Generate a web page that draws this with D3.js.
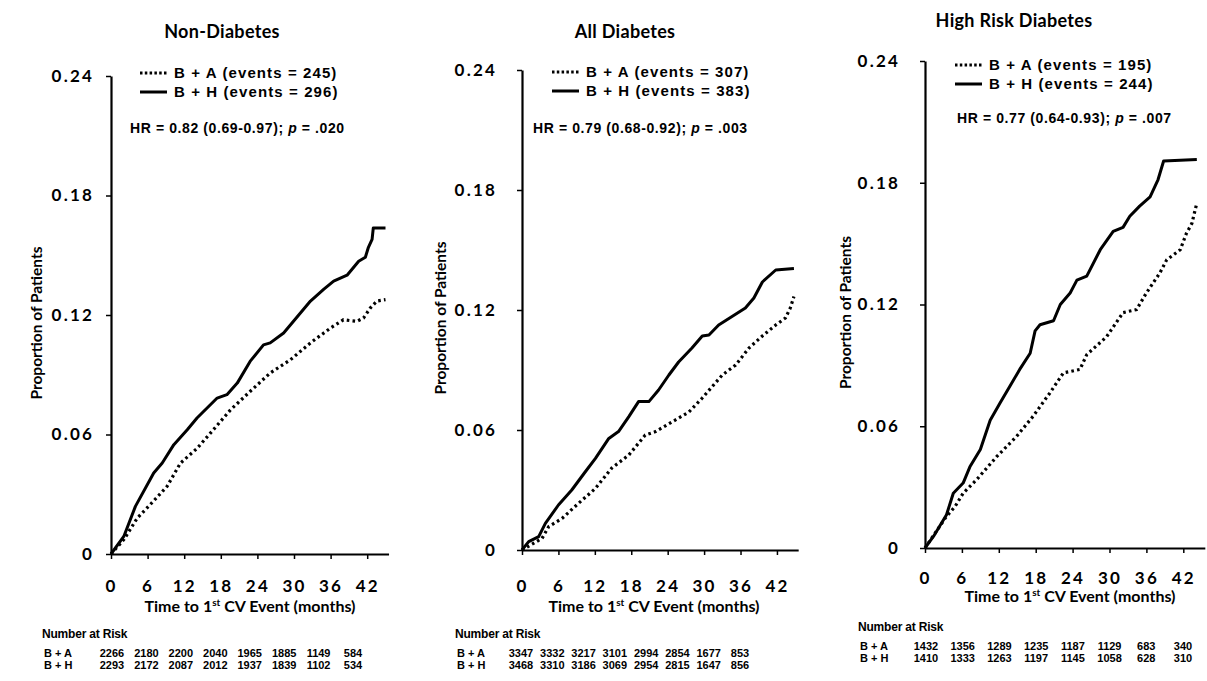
<!DOCTYPE html>
<html>
<head>
<meta charset="utf-8">
<script src="https://cdn.jsdelivr.net/npm/d3@7"></script>
<style>
  body { margin: 0; background: #fff; }
  .calib { font-family: Lato, "Open Sans", sans-serif; font-weight: 700; }
  .arial { font-family: "Liberation Sans", Arial, sans-serif; font-weight: 700; }
</style>
</head>
<body>
<svg width="1207" height="681"></svg>
<script>
// ---- data ----
const titles = ["Non-Diabetes", "All Diabetes", "High Risk Diabetes"];
const eventsBA = [245, 307, 195];
const eventsBH = [296, 383, 244];
const hrText = ["0.82 (0.69-0.97)", "0.79 (0.68-0.92)", "0.77 (0.64-0.93)"];
const pText = [".020", ".003", ".007"];

const monthTicks = [0, 6, 12, 18, 24, 30, 36, 42];
const propTicks = [0, 0.06, 0.12, 0.18, 0.24];
const propTickLabels = ["0", "0.06", "0.12", "0.18", "0.24"];

const riskBA = [
  [2266, 2180, 2200, 2040, 1965, 1885, 1149, 584],
  [3347, 3332, 3217, 3101, 2994, 2854, 1677, 853],
  [1432, 1356, 1289, 1235, 1187, 1129, 683, 340]
];
const riskBH = [
  [2293, 2172, 2087, 2012, 1937, 1839, 1102, 534],
  [3468, 3310, 3186, 3069, 2954, 2815, 1647, 856],
  [1410, 1333, 1263, 1197, 1145, 1058, 628, 310]
];

// [month, proportion]
const nonDiabBA = [[0,0],[2.1,0.0072],[4.3,0.018],[6.4,0.0247],[9.2,0.034],[11.4,0.0457],[14.1,0.053],[16.3,0.0607],[19.6,0.0724],[22.8,0.0816],[26.1,0.0909],[29.4,0.0975],[32.7,0.106],[36.0,0.1135],[38.1,0.1176],[40.3,0.1168],[41.4,0.1185],[42.5,0.1235],[43.6,0.127],[45.0,0.1277]];
const nonDiabBH = [[0,0],[2.1,0.0088],[4.0,0.0239],[7.0,0.0407],[8.4,0.0457],[10.3,0.0549],[12.5,0.0624],[14.1,0.0683],[17.4,0.0783],[19.0,0.080],[20.7,0.0858],[22.8,0.0967],[25.0,0.105],[26.1,0.106],[28.3,0.111],[30.5,0.119],[32.7,0.127],[34.9,0.133],[36.5,0.137],[38.7,0.140],[40.6,0.147],[41.7,0.149],[42.2,0.154],[42.8,0.158],[43.0,0.1637],[45.0,0.1637]];

const allDiabBA = [[0,0],[3.3,0.0058],[4.4,0.0117],[6.6,0.0158],[9.3,0.0233],[12.1,0.0308],[14.8,0.041],[17.6,0.0475],[20.3,0.0575],[22.0,0.0592],[24.7,0.064],[27.5,0.069],[29.7,0.076],[33.0,0.0875],[35.2,0.0925],[37.4,0.101],[39.6,0.107],[41.8,0.1125],[43.4,0.116],[44.2,0.121],[44.8,0.1267]];
const allDiabBH = [[0,0],[1.1,0.0042],[2.75,0.0067],[3.85,0.0133],[6.0,0.0225],[8.2,0.030],[10.4,0.039],[12.1,0.0458],[14.3,0.0558],[15.9,0.0592],[17.6,0.0667],[19.2,0.0742],[20.9,0.0742],[22.5,0.080],[24.2,0.0875],[25.8,0.094],[28.0,0.101],[29.7,0.107],[30.8,0.1075],[32.4,0.1125],[34.6,0.1167],[36.8,0.121],[38.2,0.126],[39.6,0.134],[41.8,0.140],[44.8,0.1408]];

const highRiskBA = [[0,0],[3.5,0.0156],[4.9,0.0205],[6.2,0.027],[8.4,0.0337],[11.65,0.045],[14.9,0.055],[17.6,0.065],[20.3,0.0764],[22.5,0.0863],[25.2,0.088],[26.3,0.0953],[29.5,0.104],[32.2,0.116],[34.4,0.1175],[36.0,0.1257],[38.2,0.1356],[39.3,0.142],[41.5,0.147],[42.5,0.155],[43.4,0.160],[44.2,0.170]];
const highRiskBH = [[0,0],[1.4,0.0058],[3.5,0.0164],[4.6,0.027],[6.2,0.032],[7.3,0.040],[9.0,0.0485],[10.6,0.063],[12.2,0.0715],[13.8,0.0797],[15.4,0.088],[17.1,0.096],[17.9,0.107],[18.7,0.110],[20.9,0.112],[22.0,0.120],[23.6,0.1257],[24.7,0.132],[26.3,0.134],[28.5,0.147],[30.6,0.156],[32.2,0.158],[33.3,0.1635],[34.9,0.1685],[36.6,0.173],[37.9,0.1816],[38.8,0.1907],[44.2,0.1915]];

const seriesBA = [nonDiabBA, allDiabBA, highRiskBA];
const seriesBH = [nonDiabBH, allDiabBH, highRiskBH];

// ---- layout of each panel ----
const layout = [
  {x0: 111, ppm: 6.1,  y0: 554, yTop: 76, titleX: 222, titleY: 38, legX: 140, legY: 73, hrX: 130, hrY: 128,
   xLabPad: 21, yLabPad: 12, axTitleX: 250, axTitleY: 612, ylabX: 37, riskX: 42, riskY: 634, riskFrom: 112, riskTo: 353},
  {x0: 522, ppm: 6.07, y0: 550, yTop: 70, titleX: 625, titleY: 38, legX: 552, legY: 72, hrX: 533, hrY: 128,
   xLabPad: 25, yLabPad: 20, axTitleX: 654, axTitleY: 612, ylabX: 441, riskX: 455, riskY: 634, riskFrom: 521, riskTo: 740},
  {x0: 925, ppm: 6.15, y0: 548, yTop: 61, titleX: 1014, titleY: 27, legX: 955, legY: 65, hrX: 957, hrY: 118,
   xLabPad: 19, yLabPad: 20, axTitleX: 1070, axTitleY: 602, ylabX: 846, riskX: 858, riskY: 627, riskFrom: 926, riskTo: 1183}
];

const svg = d3.select("svg");

layout.forEach((L, i) => {
  const x = d3.scaleLinear().domain([0, 45.5]).range([L.x0, L.x0 + 45.5 * L.ppm]);
  const y = d3.scaleLinear().domain([0, 0.24]).range([L.y0, L.yTop]);
  const g = svg.append("g");

  // title
  g.append("text").attr("class", "calib")
    .attr("x", L.titleX).attr("y", L.titleY)
    .attr("text-anchor", "middle")
    .style("font-size", "18px").style("letter-spacing", "0.3px")
    .text(titles[i]);

  // axes
  const xAxis = g.append("g")
    .attr("transform", `translate(0,${L.y0})`)
    .call(d3.axisBottom(x).tickValues(monthTicks).tickSize(5).tickPadding(L.xLabPad).tickSizeOuter(0));
  const yAxis = g.append("g")
    .attr("transform", `translate(${L.x0},0)`)
    .call(d3.axisLeft(y).tickValues(propTicks).tickSize(5).tickPadding(L.yLabPad).tickSizeOuter(0)
      .tickFormat((d, k) => propTickLabels[k]));

  [xAxis, yAxis].forEach(a => {
    a.select(".domain").attr("stroke", "#000").attr("stroke-width", 2.2);
    a.selectAll(".tick line").attr("stroke", "#000").attr("stroke-width", 1.5);
    a.selectAll(".tick text").attr("class", "calib")
      .attr("fill", "#000").style("font-size", "17px").style("letter-spacing", "2.2px");
  });

  // axis titles
  const xt = g.append("text").attr("class", "calib")
    .attr("x", L.axTitleX).attr("y", L.axTitleY)
    .attr("text-anchor", "middle").style("font-size", "16px");
  xt.append("tspan").text("Time to 1");
  xt.append("tspan").attr("dy", -6).style("font-size", "10px").text("st");
  xt.append("tspan").attr("dy", 6).text(" CV Event (months)");

  g.append("text").attr("class", "calib")
    .attr("transform", `translate(${L.ylabX},${(L.y0 + L.yTop) / 2 + 8}) rotate(-90)`)
    .attr("text-anchor", "middle").attr("dy", "0.35em")
    .style("font-size", "15.5px")
    .text("Proportion of Patients");

  // curves
  const line = d3.line().x(d => x(d[0])).y(d => y(d[1]));
  g.append("path").datum(seriesBH[i])
    .attr("fill", "none").attr("stroke", "#000").attr("stroke-width", 3)
    .attr("stroke-linejoin", "round")
    .attr("d", line);
  g.append("path").datum(seriesBA[i])
    .attr("fill", "none").attr("stroke", "#000").attr("stroke-width", 3.2)
    .attr("stroke-dasharray", "2.6 3.2")
    .attr("d", line);

  // legend
  const leg = g.append("g").attr("class", "arial").style("font-size", "15px").style("letter-spacing", "1.1px");
  leg.append("line").attr("x1", L.legX).attr("x2", L.legX + 27)
    .attr("y1", L.legY).attr("y2", L.legY)
    .attr("stroke", "#000").attr("stroke-width", 3).attr("stroke-dasharray", "2.5 2.3");
  leg.append("text").attr("x", L.legX + 34).attr("y", L.legY + 5)
    .text(`B + A (events = ${eventsBA[i]})`);
  leg.append("line").attr("x1", L.legX).attr("x2", L.legX + 27)
    .attr("y1", L.legY + 19).attr("y2", L.legY + 19)
    .attr("stroke", "#000").attr("stroke-width", 3);
  leg.append("text").attr("x", L.legX + 34).attr("y", L.legY + 24)
    .text(`B + H (events = ${eventsBH[i]})`);

  const hr = leg.append("text").attr("x", L.hrX).attr("y", L.hrY + 5)
    .style("font-size", "14px").style("letter-spacing", "0.6px");
  hr.append("tspan").text(`HR = ${hrText[i]}; `);
  hr.append("tspan").style("font-style", "italic").text("p");
  hr.append("tspan").text(` = ${pText[i]}`);

  // number at risk
  const risk = g.append("g").attr("class", "arial").style("font-size", "11px");
  risk.append("text").attr("x", L.riskX).attr("y", L.riskY + 4)
    .style("font-size", "12px").style("letter-spacing", "-0.2px").text("Number at Risk");
  const col = d3.scalePoint().domain(monthTicks).range([L.riskFrom, L.riskTo]);
  [["B + A", riskBA[i]], ["B + H", riskBH[i]]].forEach(([lab, vals], r) => {
    const ry = L.riskY + 19 + r * 12;
    risk.append("text").attr("x", L.riskX + 2).attr("y", ry + 4).text(lab);
    risk.selectAll(null).data(vals).enter().append("text")
      .attr("x", (d, k) => col(monthTicks[k]))
      .attr("y", ry + 4)
      .attr("text-anchor", "middle")
      .text(d => d);
  });
});
</script>
</body>
</html>
